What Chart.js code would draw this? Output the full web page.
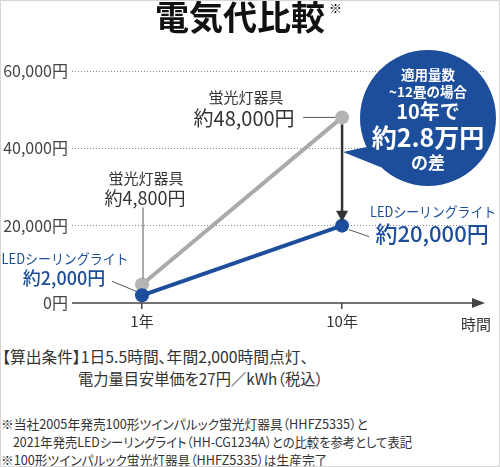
<!DOCTYPE html>
<html lang="ja">
<head>
<meta charset="utf-8">
<script src="https://cdn.jsdelivr.net/npm/chart.js@4"></script>
<style>
  html, body { margin: 0; padding: 0; background: #fff; }
  body {
    width: 500px; height: 467px; position: relative; overflow: hidden;
    font-family: "Noto Sans CJK JP", "Noto Sans", sans-serif; color: #333;
  }
  .frame { position: absolute; left: 0; top: 0; width: 498px; height: 465px; border: 1px solid #d6d6d6; pointer-events: none; }
  #chart { position: absolute; left: 0; top: 0; }
  .title { position: absolute; left: 0; top: -1px; width: 480px; text-align: center; font-size: 34px; line-height: 34px; font-weight: bold; color: #111; margin: 0; }
  .note-mark { position: absolute; left: 329px; top: 1px; font-size: 13px; line-height: 13px; color: #111; }
  .line { position: absolute; white-space: nowrap; font-feature-settings: "palt"; transform-origin: 0 50%; }
  .cond { font-size: 15.5px; line-height: 15px; }
  .foot { font-size: 13px; line-height: 13px; }
</style>
</head>
<body>
<canvas id="chart" width="500" height="340"></canvas>
<h1 class="title">電気代比較</h1>
<span class="note-mark">※</span>

<div class="line cond" data-w="306" style="left:2px; top:349px;">【算出条件】1日5.5時間、年間2,000時間点灯、</div>
<div class="line cond" data-w="245" style="left:78px; top:371px;">電力量目安単価を27円／kWh（税込）</div>

<div class="line foot" data-w="367" style="left:1px; top:417px;">※当社2005年発売100形ツインパルック蛍光灯器具（HHFZ5335）と</div>
<div class="line foot" data-w="399" style="left:13px; top:435px;">2021年発売LEDシーリングライト（HH-CG1234A）との比較を参考として表記</div>
<div class="line foot" data-w="326" style="left:1px; top:453px;">※100形ツインパルック蛍光灯器具（HHFZ5335）は生産完了</div>
<div class="frame"></div>

<script>
// データ
const years = [1, 10];
const fluorescentCost = [4800, 48000];
const ledCost = [2000, 20000];
const yTickValues = [0, 20000, 40000, 60000];

const BLUE = '#1c4e9c';
const GRAY = '#aaaaaa';
const DARK = '#333333';
const FONT = '"Noto Sans CJK JP", "Noto Sans", sans-serif';

// 注記の行幅を元画像に合わせる
function fitLines() {
    document.querySelectorAll('.line[data-w]').forEach(el => {
        el.style.transform = 'none';
        const w = el.offsetWidth;
        el.style.transform = 'scaleX(' + (Number(el.dataset.w) / w).toFixed(3) + ')';
    });
}
fitLines();
document.fonts.ready.then(fitLines);

function label(ctx, s, x, y, size, color, weight, maxW) {
    ctx.font = (weight || 'normal') + ' ' + size + 'px ' + FONT;
    ctx.fillStyle = color;
    ctx.textAlign = 'center';
    ctx.textBaseline = 'middle';
    if (maxW) ctx.fillText(s, x, y, maxW);
    else ctx.fillText(s, x, y);
}

function line(ctx, x1, y1, x2, y2, color, w) {
    ctx.beginPath();
    ctx.moveTo(x1, y1);
    ctx.lineTo(x2, y2);
    ctx.strokeStyle = color;
    ctx.lineWidth = w;
    ctx.stroke();
}

// 時間軸（矢印つき）
const axisPlugin = {
    id: 'axisArrow',
    beforeDatasetsDraw(chart) {
        const ctx = chart.ctx;
        const area = chart.chartArea;
        const y0 = chart.scales.y.getPixelForValue(0);
        ctx.save();
        line(ctx, area.left, y0, area.right - 6, y0, '#444', 1.5);
        ctx.beginPath();
        ctx.moveTo(area.right, y0);
        ctx.lineTo(area.right - 13, y0 - 5);
        ctx.lineTo(area.right - 13, y0 + 5);
        ctx.closePath();
        ctx.fillStyle = '#444';
        ctx.fill();
        label(ctx, '時間', area.right - 9, y0 + 21, 15, DARK);
        ctx.restore();
    }
};

// 注釈と吹き出し
const notePlugin = {
    id: 'notes',
    afterDatasetsDraw(chart) {
        const ctx = chart.ctx;
        const xs = chart.scales.x, ys = chart.scales.y;
        const g1 = { x: xs.getPixelForValue(years[0]), y: ys.getPixelForValue(fluorescentCost[0]) };
        const g10 = { x: xs.getPixelForValue(years[1]), y: ys.getPixelForValue(fluorescentCost[1]) };
        const l1 = { x: xs.getPixelForValue(years[0]), y: ys.getPixelForValue(ledCost[0]) };
        const l10 = { x: xs.getPixelForValue(years[1]), y: ys.getPixelForValue(ledCost[1]) };
        ctx.save();

        // 差の矢印
        line(ctx, g10.x, g10.y + 7, g10.x, l10.y - 14, DARK, 2.5);
        ctx.beginPath();
        ctx.moveTo(g10.x, l10.y - 4);
        ctx.lineTo(g10.x - 6, l10.y - 15);
        ctx.lineTo(g10.x + 6, l10.y - 15);
        ctx.closePath();
        ctx.fillStyle = DARK;
        ctx.fill();

        // 蛍光灯 10年
        line(ctx, g10.x - 39, g10.y, g10.x - 7, g10.y, '#555', 1);
        label(ctx, '蛍光灯器具', g10.x - 96, g10.y - 20, 15, DARK);
        label(ctx, '約48,000円', g10.x - 98, g10.y + 1, 20, DARK);

        // 蛍光灯 1年
        line(ctx, g1.x + 1, g1.y - 77, g1.x + 1, g1.y - 6, '#555', 1);
        label(ctx, '蛍光灯器具', g1.x + 4, g1.y - 106, 15, DARK);
        label(ctx, '約4,800円', g1.x + 3, g1.y - 86, 18, DARK);

        // LED 1年
        line(ctx, l1.x - 30, l1.y - 14, l1.x - 6, l1.y - 4, '#555', 1);
        label(ctx, 'LEDシーリングライト', 65, l1.y - 37, 14, BLUE, 'normal', 127);
        label(ctx, '約2,000円', 64, l1.y - 17, 18, BLUE, '500');

        // LED 10年
        line(ctx, l10.x + 7, l10.y + 4, l10.x + 27, l10.y + 11, '#555', 1);
        label(ctx, 'LEDシーリングライト', l10.x + 91, l10.y - 14, 14, BLUE, 'normal', 126);
        label(ctx, '約20,000円', l10.x + 90, l10.y + 8, 22, BLUE, '500');

        // 吹き出し
        const cx = 428, cy = 118, r = 68;
        ctx.beginPath();
        ctx.arc(cx, cy, r, 0, Math.PI * 2);
        ctx.fillStyle = BLUE;
        ctx.fill();
        ctx.beginPath();
        ctx.moveTo(g10.x + 1, 152);
        ctx.lineTo(cx + r * Math.cos(Math.PI * 0.86), cy + r * Math.sin(Math.PI * 0.86));
        ctx.lineTo(cx + r * Math.cos(Math.PI * 0.74), cy + r * Math.sin(Math.PI * 0.74));
        ctx.closePath();
        ctx.fill();
        label(ctx, '適用量数', cx, 75, 13.5, '#fff', 'bold');
        label(ctx, '~12畳の場合', cx, 92, 13.5, '#fff', 'bold');
        label(ctx, '10年で', cx, 111, 20, '#fff', 'bold');
        label(ctx, '約2.8万円', cx, 137, 25, '#fff', 'bold');
        label(ctx, 'の差', cx, 163, 17, '#fff', 'bold');

        ctx.restore();
    }
};

const ctx = document.getElementById('chart').getContext('2d');
new Chart(ctx, {
    type: 'line',
    data: {
        datasets: [
            {
                label: 'LEDシーリングライト',
                data: years.map((x, i) => ({ x: x, y: ledCost[i] })),
                borderColor: BLUE,
                backgroundColor: BLUE,
                borderWidth: 4,
                pointRadius: 7,
                pointBorderWidth: 0,
                order: 0
            },
            {
                label: '蛍光灯器具',
                data: years.map((x, i) => ({ x: x, y: fluorescentCost[i] })),
                borderColor: GRAY,
                backgroundColor: '#b4b4b4',
                borderWidth: 4,
                pointRadius: 7,
                pointBorderWidth: 0,
                order: 1
            }
        ]
    },
    options: {
        responsive: false,
        animation: false,
        layout: { padding: { top: 71, right: 15, left: 0, bottom: 7 } },
        plugins: { legend: { display: false }, tooltip: { enabled: false } },
        scales: {
            x: {
                type: 'linear',
                min: -2.15,
                max: 16.43,
                afterBuildTicks: scale => { scale.ticks = years.map(v => ({ value: v })); },
                afterFit: scale => { scale.height = 30; },
                grid: { drawOnChartArea: false, drawTicks: true, tickLength: 6, color: '#444', lineWidth: 1.5 },
                border: { display: false },
                ticks: {
                    padding: 3,
                    color: DARK,
                    font: { family: FONT, size: 15 },
                    callback: v => v + '年'
                }
            },
            y: {
                min: 0,
                max: 60000,
                afterBuildTicks: scale => { scale.ticks = yTickValues.map(v => ({ value: v })); },
                afterFit: scale => { scale.width = 72; },
                grid: {
                    drawTicks: false,
                    color: ctx => ctx.tick && ctx.tick.value === 0 ? 'rgba(0,0,0,0)' : '#8a8a8a',
                    lineWidth: 1
                },
                border: { display: false, dash: [1, 2] },
                ticks: {
                    padding: 4,
                    color: '#444',
                    font: { family: FONT, size: 16 },
                    callback: v => v.toLocaleString('ja-JP') + '円'
                }
            }
        }
    },
    plugins: [axisPlugin, notePlugin]
});
</script>
</body>
</html>
